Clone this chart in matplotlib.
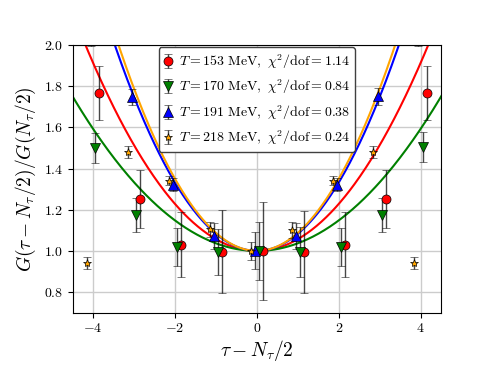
import numpy as np
import matplotlib
matplotlib.use("Agg")
import matplotlib.pyplot as plt

plt.rcParams.update({
    "mathtext.fontset": "cm",
    "font.family": "serif",
    "font.serif": ["cmr10"],
    "axes.formatter.use_mathtext": True,
    "axes.unicode_minus": False,
})

# tau - N_tau/2
tau = np.array([-4, -3, -2, -1, 0, 1, 2, 3, 4])

temps = [153, 170, 191, 218]
chi2_dof = [1.14, 0.84, 0.38, 0.24]

# normalised correlator ratios and errors
g153 = [1.767, 1.252, 1.030, 0.997, 1.000, 0.995, 1.031, 1.252, 1.767]
e153 = [0.133, 0.140, 0.157, 0.200, 0.236, 0.200, 0.157, 0.140, 0.133]
g170 = [1.501, 1.176, 1.020, 0.995, 1.000, 0.995, 1.018, 1.176, 1.505]
e170 = [0.072, 0.083, 0.093, 0.110, 0.140, 0.120, 0.093, 0.083, 0.072]
g191 = [2.250, 1.748, 1.322, 1.073, 1.000, 1.073, 1.322, 1.750, 2.250]
e191 = [0.255, 0.040, 0.032, 0.065, 0.090, 0.065, 0.032, 0.040, 0.255]
g218 = [0.940, 1.479, 1.341, 1.105, 1.000, 1.102, 1.341, 1.480, 0.940]
e218 = [0.030, 0.030, 0.022, 0.037, 0.045, 0.037, 0.022, 0.030, 0.030]

# fitted curvature, G ~ 1 + a*x^2
curv = [0.057, 0.037, 0.083, 0.0875]

series = [(g153, e153), (g170, e170), (g191, e191), (g218, e218)]
colors = ["red", "green", "blue", "orange"]
markers = ["o", "v", "^", "*"]
msizes = [6.5, 6.5, 6.5, 6]
shifts = [0.15, 0.05, -0.05, -0.15]

fig = plt.figure(figsize=(4.9, 3.68), dpi=100)
ax = fig.add_axes([0.1484, 0.1503, 0.7516, 0.7274])

xs = np.linspace(-4.6, 4.6, 400)
for a, c in zip(curv, colors):
    ax.plot(xs, 1 + a * xs**2, color=c, lw=1.5, zorder=2)

for (g, e), c, m, ms, dx, T, chi in zip(series, colors, markers, msizes, shifts, temps, chi2_dof):
    ax.errorbar(tau + dx, g, yerr=e, fmt=m, color=c, ms=ms, mec="k", mew=0.5,
                ecolor=(0, 0, 0, 0.72), elinewidth=1.0, capsize=3, capthick=1.0, zorder=3,
                label=rf"$T = {T}\ \mathrm{{MeV}},\ \chi^2/\mathrm{{dof}}{{=}}{chi:.2f}$")

ax.set_xlim(-4.5, 4.5)
ax.set_ylim(0.7, 2.0)
ax.set_xticks([-4, -2, 0, 2, 4])
ax.set_yticks([0.8, 1.0, 1.2, 1.4, 1.6, 1.8, 2.0])
ax.tick_params(labelsize=10)
ax.grid(True, color="0.8", lw=1.0, zorder=0)
ax.set_axisbelow(True)

ax.set_xlabel(r"$\tau-N_\tau/2$", fontsize=14, labelpad=2)
ax.set_ylabel(r"$G(\tau-N_\tau/2)/G(N_\tau/2)$", fontsize=14)

leg = ax.legend(loc="upper center", fontsize=10, handlelength=0.7, handletextpad=0.4,
                borderpad=0.35, borderaxespad=0.15, framealpha=1.0, fancybox=True)
leg.get_frame().set_edgecolor("0.25")

fig.savefig("out.png", dpi=100)
